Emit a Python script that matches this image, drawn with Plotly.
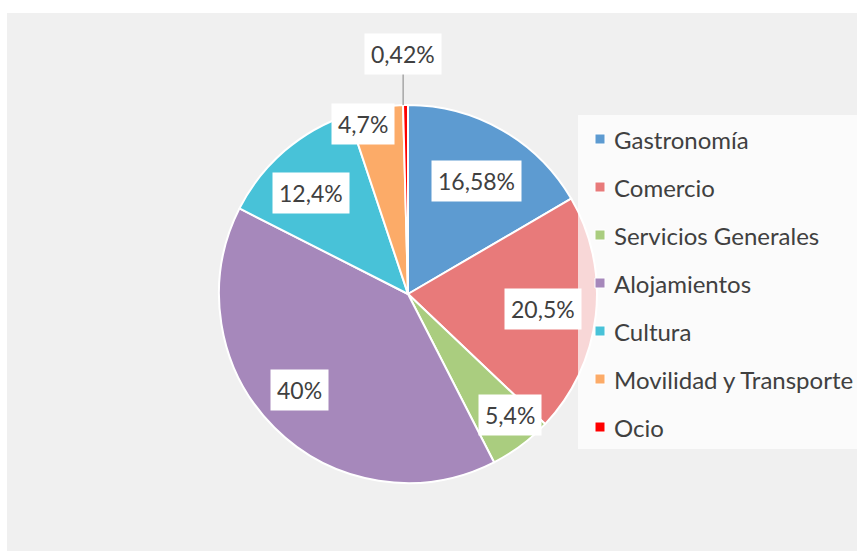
import math
import plotly.graph_objects as go

categories = ["Gastronomía", "Comercio", "Servicios Generales", "Alojamientos",
              "Cultura", "Movilidad y Transporte", "Ocio"]
values = [16.58, 20.5, 5.4, 40, 12.4, 4.7, 0.42]
value_labels = ["16,58%", "20,5%", "5,4%", "40%", "12,4%", "4,7%", "0,42%"]
colors = ["#5d9bd1", "#e87a7a", "#aacd7f", "#a688bb", "#48c2d8", "#fcab68", "#ff0000"]

W, H = 857, 551
CX, CY, R = 408, 294, 189  # pie centre and radius in px (layout)

# label placement (radial factor, angular offset in degrees) – layout only
label_rf = [0.698, 0.718, 0.837, 0.765, 0.741, 0.928, 1.27]
label_da = [1.2, -0.3, -3.3, 3.5, -3.0, -4.9, -0.4]

TXT = "#404040"
FONT = "Lato, Open Sans, sans-serif"

def px(x):
    return x / W

def py(y):
    return 1 - y / H

fig = go.Figure(go.Pie(
    labels=categories,
    values=values,
    sort=False,
    direction="clockwise",
    rotation=0,
    marker=dict(colors=colors, line=dict(color="white", width=2)),
    textinfo="none",
    hovertemplate="%{label}: %{percent}<extra></extra>",
    domain=dict(x=[px(CX - R), px(CX + R)], y=[py(CY + R), py(CY - R)]),
    showlegend=False,
))

shapes = []
# hatched-looking background panel
shapes.append(dict(type="rect", xref="paper", yref="paper", x0=px(7), x1=1,
                   y0=0, y1=py(13), fillcolor="#f0f0f0", line=dict(width=0),
                   layer="below"))

annotations = []
total = sum(values)
cum = 0.0
for i, v in enumerate(values):
    mid = (cum + v / 2) / total * 360.0
    cum += v
    ang = math.radians(mid + label_da[i])
    r = R * label_rf[i]
    lx = CX + r * math.sin(ang)
    ly = CY - r * math.cos(ang)
    annotations.append(dict(
        x=px(lx), y=py(ly), xref="paper", yref="paper", text=value_labels[i],
        showarrow=False, bgcolor="white", borderpad=6,
        font=dict(family=FONT, size=23, color=TXT),
        xanchor="center", yanchor="middle"))
    if label_rf[i] > 1:
        a0 = math.radians(mid)
        sx = CX + R * math.sin(a0)
        sy = CY - R * math.cos(a0)
        shapes.append(dict(type="line", xref="paper", yref="paper",
                           x0=px(lx), y0=py(ly + 19), x1=px(lx), y1=py(sy),
                           line=dict(color="#a6a6a6", width=1.5), layer="above"))

# legend panel (semi-transparent white)
shapes.append(dict(type="rect", xref="paper", yref="paper", x0=px(578), x1=1,
                   y0=py(449), y1=py(115), fillcolor="rgba(255,255,255,0.7)",
                   line=dict(width=0), layer="above"))
LEG_Y0, LEG_DY = 139, 48
for i, name in enumerate(categories):
    yc = LEG_Y0 + i * LEG_DY
    shapes.append(dict(type="rect", xref="paper", yref="paper",
                       x0=px(595), x1=px(605), y0=py(yc + 5), y1=py(yc - 5),
                       fillcolor=colors[i], line=dict(color="white", width=1),
                       layer="above"))
    annotations.append(dict(x=px(612), y=py(yc), xref="paper", yref="paper",
                            text=name, showarrow=False, xanchor="left",
                            yanchor="middle",
                            font=dict(family=FONT, size=24, color=TXT)))

fig.update_layout(
    width=W, height=H,
    margin=dict(l=0, r=0, t=0, b=0),
    paper_bgcolor="white",
    plot_bgcolor="white",
    shapes=shapes,
    annotations=annotations,
    showlegend=False,
)

fig.write_html("out.html",
               config={"displayModeBar": False},
               post_script="document.body.style.margin='0';"
                           "document.body.style.padding='0';"
                           "document.body.style.overflow='hidden';")
